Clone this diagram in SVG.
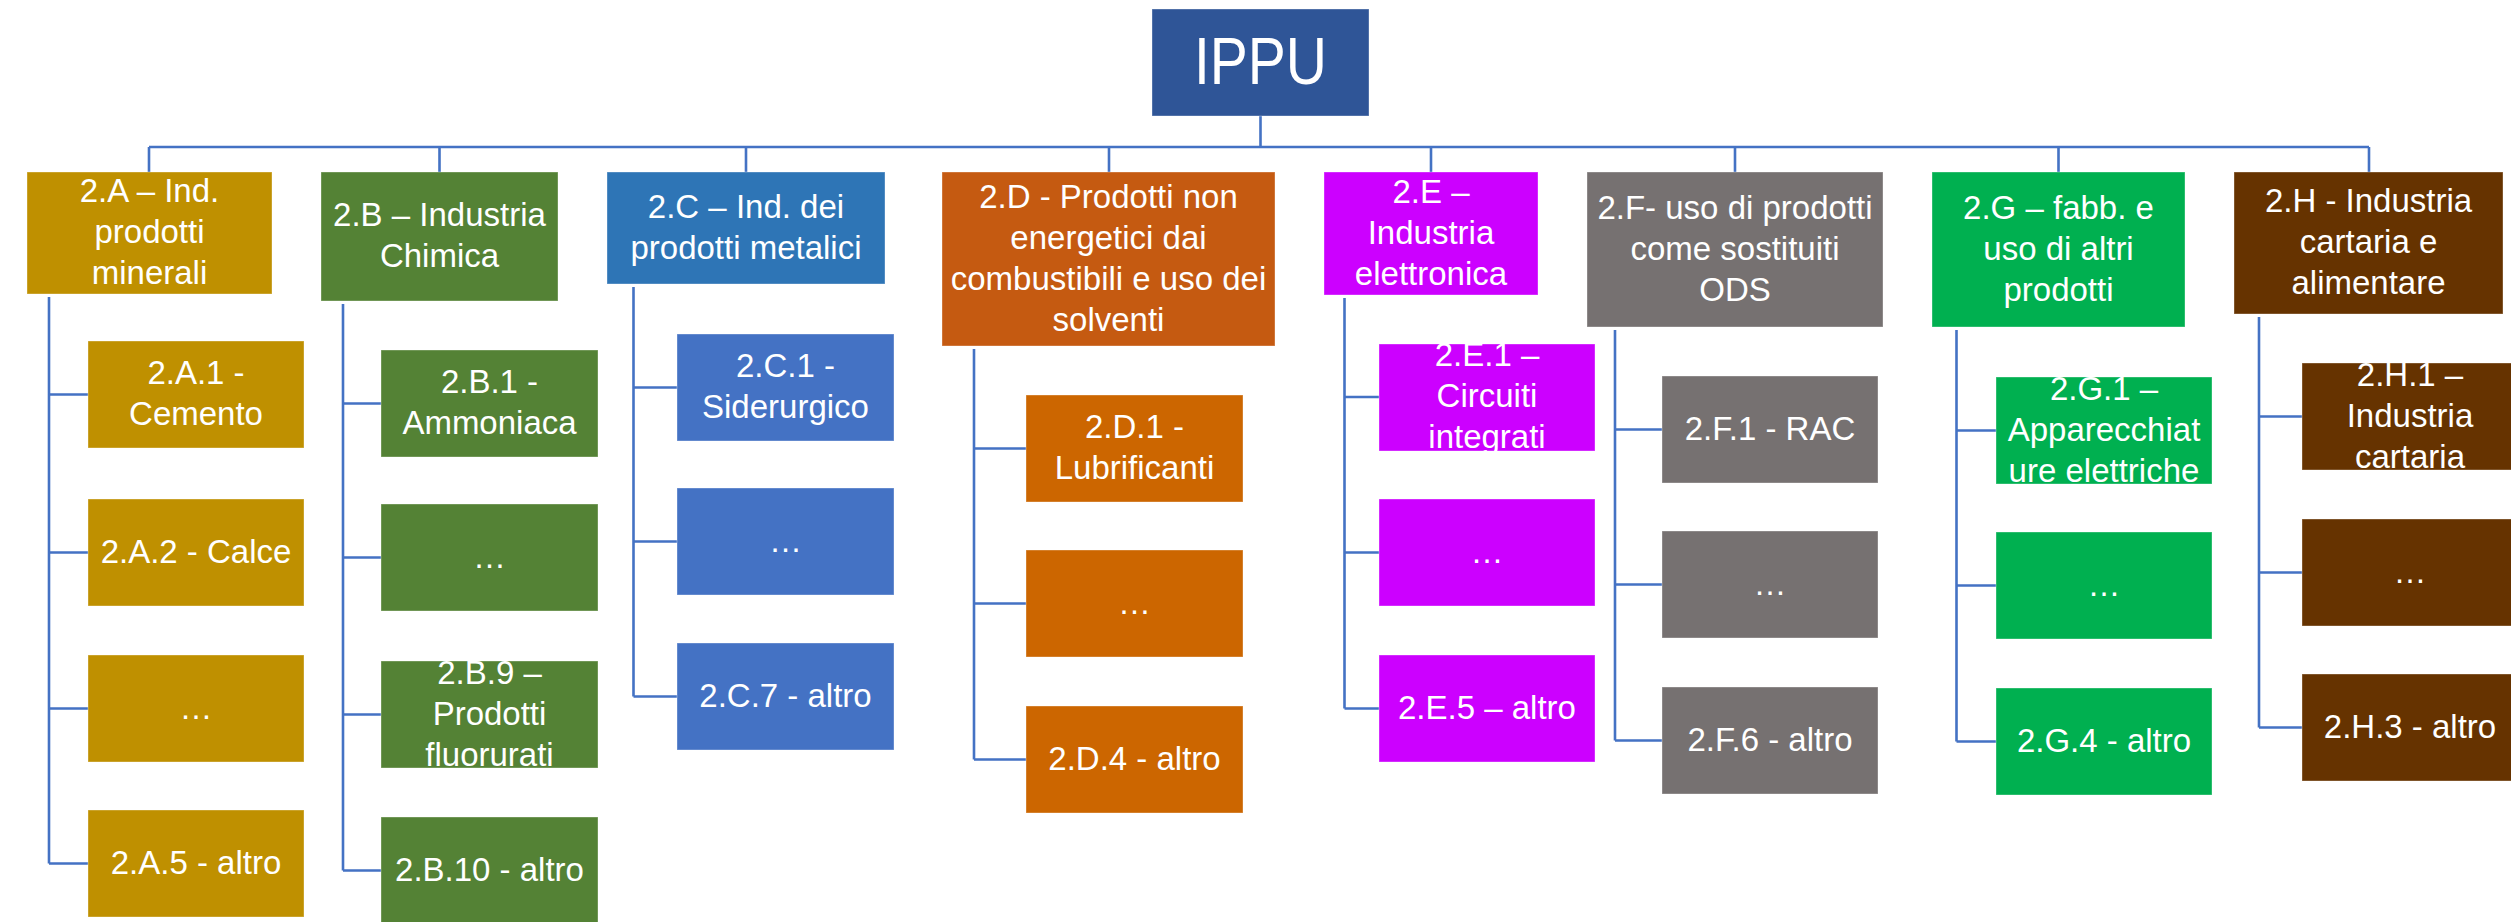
<svg xmlns="http://www.w3.org/2000/svg" width="2511" height="922" viewBox="0 0 2511 922">
<style>
.bx{stroke:#ffffff;stroke-opacity:0.35;stroke-width:1}
.t{font-family:"Liberation Sans",Arial,sans-serif;font-size:33px;fill:#ffffff;text-anchor:middle}
.root{font-family:"Liberation Sans",Arial,sans-serif;font-size:57px;fill:#ffffff;text-anchor:middle}
.cn{stroke:#4472C4;stroke-width:2.6;fill:none}
.a{fill:#BF9000}.b{fill:#548235}.c{fill:#2E75B6}.c2{fill:#4472C4}.d{fill:#C55A11}.d2{fill:#CC6600}
.e{fill:#CC00FF}.f{fill:#767171}.g{fill:#00B050}.h{fill:#663300}
</style>
<defs>
<clipPath id="cB9"><rect x="381" y="661" width="217" height="107"/></clipPath>
<clipPath id="cE1"><rect x="1379" y="344" width="216" height="107"/></clipPath>
<clipPath id="cG1"><rect x="1996" y="377" width="216" height="107"/></clipPath>
<clipPath id="cH1"><rect x="2302" y="363" width="216" height="107"/></clipPath>
</defs>
<rect width="2511" height="922" fill="#ffffff"/>
<g id="connectors" class="cn">
<path d="M1260.5 116V147M149 147H2369M149 147V172M439.5 147V172M746 147V172M1109 147V172M1431 147V172M1735 147V172M2058.5 147V172M2369 147V172"/>
<path d="M49 297V863.5M49 394.5H88M49 552.5H88M49 708.5H88M49 863.5H88"/>
<path d="M343 304V870.5M343 403.5H381M343 557.5H381M343 714.5H381M343 870.5H381"/>
<path d="M633.5 287V696.5M633.5 387.5H677M633.5 541.5H677M633.5 696.5H677"/>
<path d="M974 349V759.5M974 448.5H1026M974 603.5H1026M974 759.5H1026"/>
<path d="M1344.5 298V708.5M1344.5 397H1379M1344.5 552.5H1379M1344.5 708.5H1379"/>
<path d="M1615 330V740.5M1615 429.5H1662M1615 584.5H1662M1615 740.5H1662"/>
<path d="M1956.5 330V741.5M1956.5 430.5H1996M1956.5 585.5H1996M1956.5 741.5H1996"/>
<path d="M2259 317V727.5M2259 416.5H2302M2259 572.5H2302M2259 727.5H2302"/>
</g>
<g id="IPPU"><rect x="1152" y="9" width="217" height="107" fill="#2F5597" class="bx"/><text class="root" x="0" y="0" transform="translate(1260.5 83.5) scale(1 1.17)">IPPU</text></g>

<g id="n2A"><rect class="bx a" x="27" y="172" width="245" height="122"/><text class="t" x="149.5" y="202">2.A – Ind.</text><text class="t" x="149.5" y="243">prodotti</text><text class="t" x="149.5" y="284">minerali</text></g>
<g id="n2A1"><rect class="bx a" x="88" y="341" width="216" height="107"/><text class="t" x="196" y="384">2.A.1 -</text><text class="t" x="196" y="425">Cemento</text></g>
<g id="n2A2"><rect class="bx a" x="88" y="499" width="216" height="107"/><text class="t" x="196" y="562.5">2.A.2 - Calce</text></g>
<g id="n2A3"><rect class="bx a" x="88" y="655" width="216" height="107"/><text class="t" x="196" y="718.5">…</text></g>
<g id="n2A5"><rect class="bx a" x="88" y="810" width="216" height="107"/><text class="t" x="196" y="873.5">2.A.5 - altro</text></g>

<g id="n2B"><rect class="bx b" x="321" y="172" width="237" height="129"/><text class="t" x="439.5" y="226">2.B – Industria</text><text class="t" x="439.5" y="267">Chimica</text></g>
<g id="n2B1"><rect class="bx b" x="381" y="350" width="217" height="107"/><text class="t" x="489.5" y="393">2.B.1 -</text><text class="t" x="489.5" y="434">Ammoniaca</text></g>
<g id="n2B2"><rect class="bx b" x="381" y="504" width="217" height="107"/><text class="t" x="489.5" y="567.5">…</text></g>
<g id="n2B9"><rect class="bx b" x="381" y="661" width="217" height="107"/><g clip-path="url(#cB9)"><text class="t" x="489.5" y="683.5">2.B.9 –</text><text class="t" x="489.5" y="724.5">Prodotti</text><text class="t" x="489.5" y="765.5">fluorurati</text></g></g>
<g id="n2B10"><rect class="bx b" x="381" y="817" width="217" height="107"/><text class="t" x="489.5" y="880.5">2.B.10 - altro</text></g>

<g id="n2C"><rect class="bx c" x="607" y="172" width="278" height="112"/><text class="t" x="746" y="217.5">2.C – Ind. dei</text><text class="t" x="746" y="258.5">prodotti metalici</text></g>
<g id="n2C1"><rect class="bx c2" x="677" y="334" width="217" height="107"/><text class="t" x="785.5" y="377">2.C.1 -</text><text class="t" x="785.5" y="418">Siderurgico</text></g>
<g id="n2C2"><rect class="bx c2" x="677" y="488" width="217" height="107"/><text class="t" x="785.5" y="551.5">…</text></g>
<g id="n2C7"><rect class="bx c2" x="677" y="643" width="217" height="107"/><text class="t" x="785.5" y="706.5">2.C.7 - altro</text></g>

<g id="n2D"><rect class="bx d" x="942" y="172" width="333" height="174"/><text class="t" x="1108.5" y="207.5">2.D - Prodotti non</text><text class="t" x="1108.5" y="248.5">energetici dai</text><text class="t" x="1108.5" y="289.5">combustibili e uso dei</text><text class="t" x="1108.5" y="330.5">solventi</text></g>
<g id="n2D1"><rect class="bx d2" x="1026" y="395" width="217" height="107"/><text class="t" x="1134.5" y="438">2.D.1 -</text><text class="t" x="1134.5" y="479">Lubrificanti</text></g>
<g id="n2D2"><rect class="bx d2" x="1026" y="550" width="217" height="107"/><text class="t" x="1134.5" y="613.5">…</text></g>
<g id="n2D4"><rect class="bx d2" x="1026" y="706" width="217" height="107"/><text class="t" x="1134.5" y="769.5">2.D.4 - altro</text></g>

<g id="n2E"><rect class="bx e" x="1324" y="172" width="214" height="123"/><text class="t" x="1431" y="202.5">2.E –</text><text class="t" x="1431" y="243.5">Industria</text><text class="t" x="1431" y="284.5">elettronica</text></g>
<g id="n2E1"><rect class="bx e" x="1379" y="344" width="216" height="107"/><g clip-path="url(#cE1)"><text class="t" x="1487" y="366">2.E.1 –</text><text class="t" x="1487" y="407">Circuiti</text><text class="t" x="1487" y="448">integrati</text></g></g>
<g id="n2E2"><rect class="bx e" x="1379" y="499" width="216" height="107"/><text class="t" x="1487" y="562.5">…</text></g>
<g id="n2E5"><rect class="bx e" x="1379" y="655" width="216" height="107"/><text class="t" x="1487" y="718.5">2.E.5 – altro</text></g>

<g id="n2F"><rect class="bx f" x="1587" y="172" width="296" height="155"/><text class="t" x="1735" y="218.5">2.F- uso di prodotti</text><text class="t" x="1735" y="259.5">come sostituiti</text><text class="t" x="1735" y="300.5">ODS</text></g>
<g id="n2F1"><rect class="bx f" x="1662" y="376" width="216" height="107"/><text class="t" x="1770" y="439.5">2.F.1 - RAC</text></g>
<g id="n2F2"><rect class="bx f" x="1662" y="531" width="216" height="107"/><text class="t" x="1770" y="594.5">…</text></g>
<g id="n2F6"><rect class="bx f" x="1662" y="687" width="216" height="107"/><text class="t" x="1770" y="750.5">2.F.6 - altro</text></g>

<g id="n2G"><rect class="bx g" x="1932" y="172" width="253" height="155"/><text class="t" x="2058.5" y="218.5">2.G – fabb. e</text><text class="t" x="2058.5" y="259.5">uso di altri</text><text class="t" x="2058.5" y="300.5">prodotti</text></g>
<g id="n2G1"><rect class="bx g" x="1996" y="377" width="216" height="107"/><g clip-path="url(#cG1)"><text class="t" x="2104" y="399.5">2.G.1 –</text><text class="t" x="2104" y="440.5">Apparecchiat</text><text class="t" x="2104" y="481.5">ure elettriche</text></g></g>
<g id="n2G2"><rect class="bx g" x="1996" y="532" width="216" height="107"/><text class="t" x="2104" y="595.5">…</text></g>
<g id="n2G4"><rect class="bx g" x="1996" y="688" width="216" height="107"/><text class="t" x="2104" y="751.5">2.G.4 - altro</text></g>

<g id="n2H"><rect class="bx h" x="2234" y="172" width="269" height="142"/><text class="t" x="2368.5" y="212">2.H - Industria</text><text class="t" x="2368.5" y="253">cartaria e</text><text class="t" x="2368.5" y="294">alimentare</text></g>
<g id="n2H1"><rect class="bx h" x="2302" y="363" width="216" height="107"/><g clip-path="url(#cH1)"><text class="t" x="2410" y="385.5">2.H.1 –</text><text class="t" x="2410" y="426.5">Industria</text><text class="t" x="2410" y="467.5">cartaria</text></g></g>
<g id="n2H2"><rect class="bx h" x="2302" y="519" width="216" height="107"/><text class="t" x="2410" y="582.5">…</text></g>
<g id="n2H3"><rect class="bx h" x="2302" y="674" width="216" height="107"/><text class="t" x="2410" y="737.5">2.H.3 - altro</text></g>
</svg>
